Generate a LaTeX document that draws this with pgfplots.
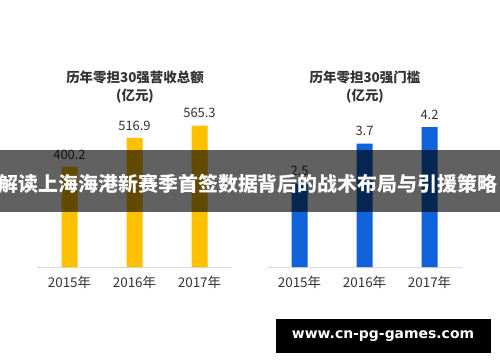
\documentclass[border=0pt]{standalone}
\usepackage{fontspec}
\setmainfont{Noto Sans CJK SC}
\newfontfamily\urlfont{DejaVu Sans}
\usepackage{pgfplots}
\pgfplotsset{compat=1.18}
\definecolor{goldbar}{HTML}{FFC000}
\definecolor{bluebar}{HTML}{0F62D9}
\definecolor{txt}{HTML}{333333}
\definecolor{axisgray}{HTML}{D9D9D9}
\pgfplotsset{
  mybars/.style={
    scale only axis, width=195bp, height=150bp,
    xmin=-0.5, xmax=2.5, ymin=0,
    axis x line*=bottom, axis y line=none,
    axis line style={axisgray, line width=1pt},
    xtick={0,1,2}, xticklabels={2015年,2016年,2017年},
    major tick length=0pt,
    xticklabel style={font=\fontsize{13.5}{14}\selectfont, text=txt, yshift=-6bp},
    ybar, bar width=16bp,
    point meta=explicit symbolic,
    nodes near coords,
    every node near coord/.append style={font=\fontsize{13}{13}\selectfont, text=txt, yshift=4bp},
    clip=false,
  }
}
\begin{document}
\begin{tikzpicture}[x=1bp,y=1bp]
\path[use as bounding box, fill=white] (0,0) rectangle (500,362);
\begin{axis}[mybars, at={(37bp,95bp)}, anchor=south west, ymax=600]
\addplot[fill=goldbar, draw=none] coordinates {(0,400.2) [400.2] (1,516.9) [516.9] (2,565.3) [565.3]};
\end{axis}
\begin{axis}[mybars, at={(267bp,95bp)}, anchor=south west, ymax=4.5]
\addplot[fill=bluebar, draw=none] coordinates {(0,2.5) [2.5] (1,3.7) [3.7] (2,4.2) [4.2]};
\end{axis}
\node[font=\bfseries\fontsize{13.5}{13.5}\selectfont, text=txt] at (135,285) {历年零担30强营收总额};
\node[font=\bfseries\fontsize{13.5}{13.5}\selectfont, text=txt] at (135,266) {(亿元)};
\node[font=\bfseries\fontsize{13.5}{13.5}\selectfont, text=txt] at (365,285) {历年零担30强门槛};
\node[font=\bfseries\fontsize{13.5}{13.5}\selectfont, text=txt] at (365,266) {(亿元)};
\fill[black, opacity=0.62] (0,150) rectangle (500,212);
\node[font=\bfseries\fontsize{20}{20}\selectfont, text=white] at (248,178) {解读上海海港新赛季首签数据背后的战术布局与引援策略};
\fill[black] (276,9) rectangle (491,43);
\node[font=\urlfont\bfseries\fontsize{14}{14}\selectfont, text=white] at (383,26) {www.cn-pg-games.com};
\end{tikzpicture}
\end{document}
